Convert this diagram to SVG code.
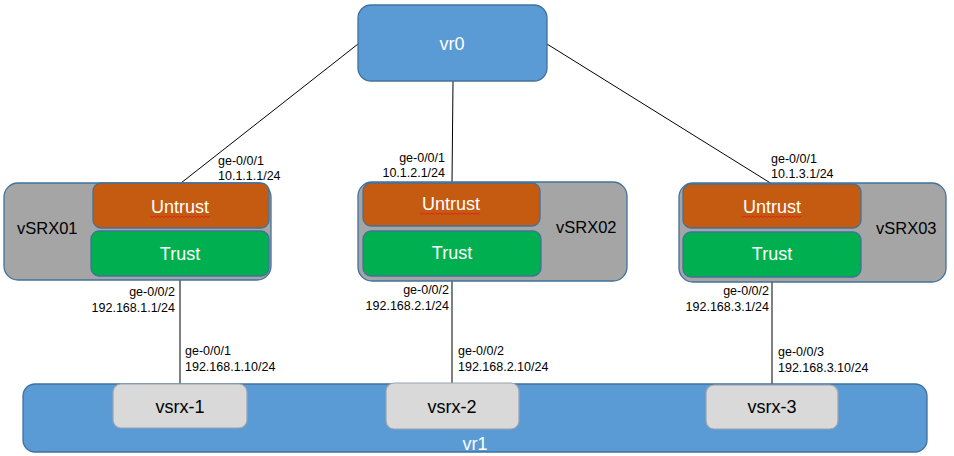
<svg xmlns="http://www.w3.org/2000/svg" width="954" height="456" viewBox="0 0 954 456">
<style>
.big{font-family:"Liberation Sans",Arial,sans-serif;font-size:18px;}
.dn{font-family:"Liberation Sans",Arial,sans-serif;font-size:16.5px;fill:#000;}
.w{fill:#fff;}
.k{fill:#000;}
.lbl{font-family:"Liberation Sans",Arial,sans-serif;font-size:12.5px;fill:#000;}
.blue{fill:#5B9BD5;stroke:#41719C;stroke-width:1.3;}
.dev{fill:#A5A5A5;stroke:#41719C;stroke-width:1.3;}
.untrust{fill:#C55A11;stroke:#41719C;stroke-width:1.3;}
.trust{fill:#00B050;stroke:#41719C;stroke-width:1.3;}
.host{fill:#D9D9D9;stroke:#9AA3AD;stroke-width:1.2;}
.conn{stroke:#000;stroke-width:1;fill:none;}
.sq{stroke:#E02020;stroke-width:0.9;fill:none;}
</style>
<g id="connectors">
<line class="conn" x1="358" y1="44" x2="181" y2="183"/>
<line class="conn" x1="453" y1="81" x2="452" y2="183"/>
<line class="conn" x1="547" y1="44" x2="772" y2="184"/>
<line class="conn" x1="180" y1="277" x2="180" y2="384"/>
<line class="conn" x1="452" y1="276" x2="452" y2="384"/>
<line class="conn" x1="772" y1="277" x2="772" y2="385"/>
<text class="lbl" x="218" y="165">ge-0/0/1</text>
<text class="lbl" x="218" y="180">10.1.1.1/24</text>
<text class="lbl" x="445" y="162" text-anchor="end">ge-0/0/1</text>
<text class="lbl" x="445" y="177" text-anchor="end">10.1.2.1/24</text>
<text class="lbl" x="771" y="163">ge-0/0/1</text>
<text class="lbl" x="771" y="178">10.1.3.1/24</text>
<text class="lbl" x="175" y="296" text-anchor="end">ge-0/0/2</text>
<text class="lbl" x="175" y="312" text-anchor="end">192.168.1.1/24</text>
<text class="lbl" x="449" y="294" text-anchor="end">ge-0/0/2</text>
<text class="lbl" x="449" y="310" text-anchor="end">192.168.2.1/24</text>
<text class="lbl" x="769" y="295" text-anchor="end">ge-0/0/2</text>
<text class="lbl" x="769" y="311" text-anchor="end">192.168.3.1/24</text>
<text class="lbl" x="185" y="355">ge-0/0/1</text>
<text class="lbl" x="185" y="371">192.168.1.10/24</text>
<text class="lbl" x="458" y="355">ge-0/0/2</text>
<text class="lbl" x="458" y="371">192.168.2.10/24</text>
<text class="lbl" x="778" y="356">ge-0/0/3</text>
<text class="lbl" x="778" y="372">192.168.3.10/24</text>
</g>
<g id="vr0">
<rect class="blue" x="358" y="5" width="189" height="76" rx="13"/>
<text class="big w" x="452" y="50" text-anchor="middle">vr0</text>
</g>
<g id="vSRX01">
<rect class="dev" x="4" y="183" width="267" height="97" rx="14"/>
<rect class="untrust" x="93" y="183" width="176" height="45" rx="8"/>
<rect class="trust" x="91" y="231" width="178" height="45" rx="8"/>
<text class="dn" x="17" y="234">vSRX01</text>
<text class="big w" x="180" y="213" text-anchor="middle">Untrust</text>
<path class="sq" d="M150 216 l2 1.5 l2 -1.5 l2 1.5 l2 -1.5 l2 1.5 l2 -1.5 l2 1.5 l2 -1.5 l2 1.5 l2 -1.5 l2 1.5 l2 -1.5 l2 1.5 l2 -1.5 l2 1.5 l2 -1.5 l2 1.5 l2 -1.5 l2 1.5 l2 -1.5 l2 1.5 l2 -1.5 l2 1.5 l2 -1.5 l2 1.5 l2 -1.5 l2 1.5 l2 -1.5 l2 1.5 l2 -1.5"/>
<text class="big w" x="180" y="260" text-anchor="middle">Trust</text>
</g>
<g id="vSRX02">
<rect class="dev" x="358" y="182" width="269" height="99" rx="14"/>
<rect class="untrust" x="363" y="183" width="177" height="43" rx="8"/>
<rect class="trust" x="363" y="231" width="178" height="45" rx="8"/>
<text class="dn" x="556" y="233">vSRX02</text>
<text class="big w" x="451" y="210" text-anchor="middle">Untrust</text>
<path class="sq" d="M420 213 l2 1.5 l2 -1.5 l2 1.5 l2 -1.5 l2 1.5 l2 -1.5 l2 1.5 l2 -1.5 l2 1.5 l2 -1.5 l2 1.5 l2 -1.5 l2 1.5 l2 -1.5 l2 1.5 l2 -1.5 l2 1.5 l2 -1.5 l2 1.5 l2 -1.5 l2 1.5 l2 -1.5 l2 1.5 l2 -1.5 l2 1.5 l2 -1.5 l2 1.5 l2 -1.5 l2 1.5 l2 -1.5"/>
<text class="big w" x="452" y="259" text-anchor="middle">Trust</text>
</g>
<g id="vSRX03">
<rect class="dev" x="679" y="183" width="267" height="99" rx="14"/>
<rect class="untrust" x="683" y="184" width="178" height="44" rx="8"/>
<rect class="trust" x="683" y="232" width="178" height="45" rx="8"/>
<text class="dn" x="876" y="234">vSRX03</text>
<text class="big w" x="772" y="213" text-anchor="middle">Untrust</text>
<path class="sq" d="M741 216 l2 1.5 l2 -1.5 l2 1.5 l2 -1.5 l2 1.5 l2 -1.5 l2 1.5 l2 -1.5 l2 1.5 l2 -1.5 l2 1.5 l2 -1.5 l2 1.5 l2 -1.5 l2 1.5 l2 -1.5 l2 1.5 l2 -1.5 l2 1.5 l2 -1.5 l2 1.5 l2 -1.5 l2 1.5 l2 -1.5 l2 1.5 l2 -1.5 l2 1.5 l2 -1.5 l2 1.5 l2 -1.5"/>
<text class="big w" x="772" y="260" text-anchor="middle">Trust</text>
</g>
<g id="vr1">
<rect class="blue" x="23" y="384" width="904" height="68" rx="12"/>
<text class="big w" x="475" y="450" text-anchor="middle">vr1</text>
</g>
<g id="vsrx-1">
<rect class="host" x="113" y="384" width="134" height="44" rx="8"/>
<text class="big k" x="180" y="413" text-anchor="middle">vsrx-1</text>
</g>
<g id="vsrx-2">
<rect class="host" x="386" y="383" width="133" height="46" rx="8"/>
<text class="big k" x="452" y="413" text-anchor="middle">vsrx-2</text>
</g>
<g id="vsrx-3">
<rect class="host" x="706" y="385" width="132" height="44" rx="8"/>
<text class="big k" x="772" y="413" text-anchor="middle">vsrx-3</text>
</g>
</svg>
